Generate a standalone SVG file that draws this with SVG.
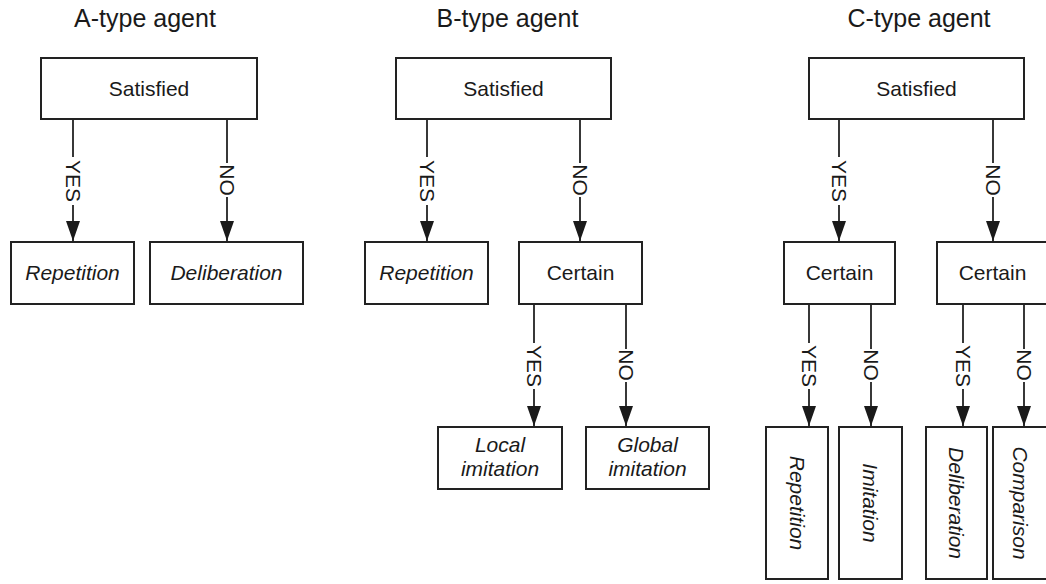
<svg xmlns="http://www.w3.org/2000/svg" width="1046" height="584" viewBox="0 0 1046 584">
<defs>
<style>
.box{fill:#fff;stroke:#222;stroke-width:2}
.ln{fill:none;stroke:#222;stroke-width:1.8}
.t{font-family:"Liberation Sans",Arial,sans-serif;font-size:21px;fill:#1a1a1a;text-anchor:middle}
.i{font-style:italic}
.ttl{font-family:"Liberation Sans",Arial,sans-serif;font-size:25px;fill:#1a1a1a;text-anchor:middle}
</style>
<marker id="arr" markerUnits="userSpaceOnUse" markerWidth="20" markerHeight="14" refX="20" refY="7" orient="auto">
<path d="M0,0 L20,7 L0,14 z" fill="#1a1a1a"/>
</marker>
</defs>
<rect width="1046" height="584" fill="#fff"/>

<g id="titles">
<text class="ttl" x="145" y="27">A-type agent</text>
<text class="ttl" x="507.5" y="27">B-type agent</text>
<text class="ttl" x="919" y="27">C-type agent</text>
</g>

<g id="connectors">
<!-- A -->
<line class="ln" x1="73" y1="119" x2="73" y2="157"/>
<line class="ln" x1="73" y1="205" x2="73" y2="241" marker-end="url(#arr)"/>
<text class="t" transform="translate(65.5,181) rotate(90)">YES</text>
<line class="ln" x1="227" y1="119" x2="227" y2="163"/>
<line class="ln" x1="227" y1="197" x2="227" y2="241" marker-end="url(#arr)"/>
<text class="t" transform="translate(219.5,180) rotate(90)">NO</text>
<!-- B -->
<line class="ln" x1="427" y1="119" x2="427" y2="157"/>
<line class="ln" x1="427" y1="205" x2="427" y2="241" marker-end="url(#arr)"/>
<text class="t" transform="translate(419.5,181) rotate(90)">YES</text>
<line class="ln" x1="580" y1="119" x2="580" y2="163"/>
<line class="ln" x1="580" y1="197" x2="580" y2="241" marker-end="url(#arr)"/>
<text class="t" transform="translate(572.5,180) rotate(90)">NO</text>
<line class="ln" x1="534" y1="304" x2="534" y2="343"/>
<line class="ln" x1="534" y1="389" x2="534" y2="426" marker-end="url(#arr)"/>
<text class="t" transform="translate(526.5,366) rotate(90)">YES</text>
<line class="ln" x1="626" y1="304" x2="626" y2="349"/>
<line class="ln" x1="626" y1="382" x2="626" y2="426" marker-end="url(#arr)"/>
<text class="t" transform="translate(618.5,365) rotate(90)">NO</text>
<!-- C -->
<line class="ln" x1="839" y1="119" x2="839" y2="157"/>
<line class="ln" x1="839" y1="205" x2="839" y2="241" marker-end="url(#arr)"/>
<text class="t" transform="translate(831.5,181) rotate(90)">YES</text>
<line class="ln" x1="993" y1="119" x2="993" y2="163"/>
<line class="ln" x1="993" y1="197" x2="993" y2="241" marker-end="url(#arr)"/>
<text class="t" transform="translate(985.5,180) rotate(90)">NO</text>
<line class="ln" x1="809" y1="304" x2="809" y2="343"/>
<line class="ln" x1="809" y1="389" x2="809" y2="426" marker-end="url(#arr)"/>
<text class="t" transform="translate(801.5,366) rotate(90)">YES</text>
<line class="ln" x1="871" y1="304" x2="871" y2="349"/>
<line class="ln" x1="871" y1="382" x2="871" y2="426" marker-end="url(#arr)"/>
<text class="t" transform="translate(863.5,365) rotate(90)">NO</text>
<line class="ln" x1="963" y1="304" x2="963" y2="343"/>
<line class="ln" x1="963" y1="389" x2="963" y2="426" marker-end="url(#arr)"/>
<text class="t" transform="translate(955.5,366) rotate(90)">YES</text>
<line class="ln" x1="1024" y1="304" x2="1024" y2="349"/>
<line class="ln" x1="1024" y1="382" x2="1024" y2="426" marker-end="url(#arr)"/>
<text class="t" transform="translate(1016.5,365) rotate(90)">NO</text>
</g>

<g id="a-satisfied"><rect class="box" x="41" y="58" width="216" height="61"/><text class="t" x="149" y="96">Satisfied</text></g>
<g id="a-repetition"><rect class="box" x="11" y="242" width="123" height="62"/><text class="t i" x="72.5" y="280">Repetition</text></g>
<g id="a-deliberation"><rect class="box" x="150" y="242" width="153" height="62"/><text class="t i" x="226.5" y="280">Deliberation</text></g>

<g id="b-satisfied"><rect class="box" x="396" y="58" width="215" height="61"/><text class="t" x="503.5" y="96">Satisfied</text></g>
<g id="b-repetition"><rect class="box" x="365" y="242" width="123" height="62"/><text class="t i" x="426.5" y="280">Repetition</text></g>
<g id="b-certain"><rect class="box" x="519" y="242" width="123" height="62"/><text class="t" x="580.5" y="280">Certain</text></g>
<g id="b-local"><rect class="box" x="438" y="427" width="124" height="62"/><text class="t i" x="500" y="452">Local</text><text class="t i" x="500" y="476">imitation</text></g>
<g id="b-global"><rect class="box" x="586" y="427" width="123" height="62"/><text class="t i" x="647.5" y="452">Global</text><text class="t i" x="647.5" y="476">imitation</text></g>

<g id="c-satisfied"><rect class="box" x="809" y="58" width="215" height="61"/><text class="t" x="916.5" y="96">Satisfied</text></g>
<g id="c-certain-yes"><rect class="box" x="784" y="242" width="111" height="62"/><text class="t" x="839.5" y="280">Certain</text></g>
<g id="c-certain-no"><rect class="box" x="937" y="242" width="120" height="62"/><text class="t" x="992.5" y="280">Certain</text></g>
<g id="c-repetition"><rect class="box" x="766" y="427" width="62" height="152"/><text class="t i" transform="translate(789.5,503) rotate(90)">Repetition</text></g>
<g id="c-imitation"><rect class="box" x="839" y="427" width="63" height="152"/><text class="t i" transform="translate(863,503) rotate(90)">Imitation</text></g>
<g id="c-deliberation"><rect class="box" x="926" y="427" width="61" height="152"/><text class="t i" transform="translate(949,503) rotate(90)">Deliberation</text></g>
<g id="c-comparison"><rect class="box" x="993" y="427" width="60" height="152"/><text class="t i" transform="translate(1012.5,503) rotate(90)">Comparison</text></g>
</svg>
